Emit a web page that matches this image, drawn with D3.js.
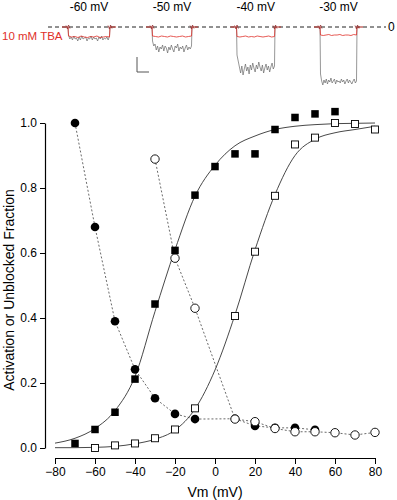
<!DOCTYPE html>
<html>
<head>
<meta charset="utf-8">
<script src="https://cdn.jsdelivr.net/npm/d3@7"></script>
<style>
  body { margin: 0; background: #fff; }
  svg { display: block; font-family: "Liberation Sans", Arial, sans-serif; }
</style>
</head>
<body>
<div id="chart"></div>
<script>
// activation (squares) and unblocked fraction (circles) vs Vm
const actCtrlV = [-70, -60, -50, -40, -30, -20, -10, 0, 10, 20, 30, 40, 50, 60];
const actCtrl  = [0.014, 0.057, 0.11, 0.212, 0.443, 0.608, 0.778, 0.866, 0.905, 0.905, 0.98, 1.017, 1.028, 1.035];
const actTbaV  = [-60, -50, -40, -30, -20, -10, 10, 20, 30, 40, 50, 60, 70, 80];
const actTba   = [0.0, 0.008, 0.014, 0.03, 0.057, 0.122, 0.406, 0.604, 0.776, 0.934, 0.955, 1.0, 0.997, 0.98];
const unblkAV  = [-70, -60, -50, -40, -30, -20, -10, 10, 20, 30, 40, 50];
const unblkA   = [1.0, 0.68, 0.39, 0.242, 0.153, 0.105, 0.089, 0.09, 0.068, 0.062, 0.062, 0.056];
const unblkBV  = [-30, -20, -10, 10, 20, 30, 40, 50, 60, 70, 80];
const unblkB   = [0.889, 0.584, 0.43, 0.089, 0.081, 0.06, 0.05, 0.05, 0.047, 0.04, 0.048];
// fitted curves
const fitV     = [-80, -70, -60, -50, -40, -30, -20, -10, 0, 10, 20, 30, 40, 50, 60, 70, 80];
const fitCtrl  = [0.015, 0.03, 0.06, 0.115, 0.22, 0.42, 0.61, 0.775, 0.87, 0.93, 0.96, 0.98, 0.99, 0.995, 0.998, 0.999, 1.0];
const fitTba   = [0.001, 0.001, 0.002, 0.005, 0.013, 0.027, 0.055, 0.12, 0.24, 0.41, 0.61, 0.78, 0.9, 0.95, 0.97, 0.98, 0.99];
const xTicks   = [-80, -60, -40, -20, 0, 20, 40, 60, 80];
const yTicks   = [0, 0.2, 0.4, 0.6, 0.8, 1.0];

// current traces (top inset)
const sweepLabels = ["-60 mV", "-50 mV", "-40 mV", "-30 mV"];
const stepOn   = [20, 104, 188.5, 272];
const stepOff  = [62, 144, 227, 309];
const redTrace = [
  [-9, -10, -9.5, -10.5, -9, -10, -10.5, -9.5, -10, -9, -10.5, -10, -9.5, -10],
  [-9, -9.5, -10, -9, -9.5, -10, -9, -9.5, -10, -9.5, -9, -10, -9.5, -9],
  [-9.5, -10, -9.5, -9, -10, -9.5, -10, -9, -9.5, -10, -9.5, -9, -10, -9.5],
  [-8, -8.5, -8, -7.5, -8.5, -8, -8, -7.5, -8.5, -8, -8, -8.5, -7.5, -8]
];
const grayNoise = [
  [-8, -12, -10, -13, -9, -12, -11, -14, -10, -13, -9, -12, -11, -10, -14, -11, -12, -9, -13, -10, -12, -11, -14, -10, -12, -9, -13, -11, -12, -10, -13, -9],
  [-14, -19, -17, -23, -19, -25, -20, -22, -18, -24, -19, -21, -26, -20, -23, -18, -22, -25, -19, -21, -17, -24, -20, -22, -19, -25, -21, -18, -23, -20, -22, -19],
  [-28, -34, -40, -46, -39, -48, -42, -37, -44, -40, -47, -38, -43, -36, -41, -45, -38, -42, -35, -40, -44, -38, -46, -41, -37, -43, -39, -45, -40, -36, -42, -39],
  [-47, -54, -58, -53, -56, -52, -57, -53, -55, -51, -56, -54, -52, -57, -53, -55, -54, -56, -52, -55, -53, -57, -54, -52, -56, -53, -55, -57, -54, -52, -56, -54]
];

const W = 397, H = 500;
const svg = d3.select("#chart").append("svg")
  .attr("width", W)
  .attr("height", H);

// ---- top traces ----
let tx = d3.scaleLinear().domain([0, 340]).range([48, 388]);
let ty = d3.scaleLinear().domain([0, -60]).range([27, 87]);

svg.append("line")
  .attr("x1", tx(0)).attr("x2", tx(338))
  .attr("y1", ty(0)).attr("y2", ty(0))
  .attr("stroke", "#222").attr("stroke-width", 1)
  .attr("stroke-dasharray", "4,3");
svg.append("text").text("0")
  .attr("x", 388).attr("y", ty(0) + 4)
  .attr("font-size", 12);
svg.append("text").text("10 mM TBA")
  .attr("x", 2).attr("y", 40)
  .attr("font-size", 11.5)
  .attr("fill", "#e0302a");

let traceLine = d3.line().x(d => tx(d[0])).y(d => ty(d[1]));

function stepTrace(t0, t1, vals){
  let n = vals.length;
  let pts = [[t0 - 6, 0], [t0, 0]];
  vals.forEach(function(v, k){
    pts.push([t0 + 0.5 + k * (t1 - t0 - 1) / (n - 1), v]);
  });
  pts.push([t1, 0], [t1 + 6, 0]);
  return pts;
}

sweepLabels.forEach(function(lab, i){
  let t0 = stepOn[i], t1 = stepOff[i];
  svg.append("text").text(lab)
    .attr("x", tx((t0 + t1) / 2))
    .attr("y", 11)
    .attr("font-size", 12)
    .attr("text-anchor", "middle");

  svg.append("path")
    .attr("d", traceLine(stepTrace(t0, t1, grayNoise[i])))
    .attr("fill", "none")
    .attr("stroke", "#6a6a6a")
    .attr("stroke-width", 0.7);

  svg.append("path")
    .attr("d", traceLine(stepTrace(t0, t1, redTrace[i])))
    .attr("fill", "none")
    .attr("stroke", "#e0302a")
    .attr("stroke-width", 0.8);

  // capacitive blips at step edges
  [t0, t1].forEach(function(t){
    svg.append("path")
      .attr("d", traceLine([[t - 2, 1.5], [t - 0.5, -2], [t + 0.5, 2], [t + 2, -1.5]]))
      .attr("fill", "none")
      .attr("stroke", "#933")
      .attr("stroke-width", 0.8);
  });
});

// scale bar
svg.append("path")
  .attr("d", "M137,57V72H149")
  .attr("fill", "none")
  .attr("stroke", "#555")
  .attr("stroke-width", 1);

// ---- main plot ----
let x = d3.scaleLinear().domain([-80, 80]).range([55, 375]);
let y = d3.scaleLinear().domain([0, 1]).range([448, 123]);

let xAxis = svg.append("g")
  .attr("transform", "translate(0,458)")
  .call(d3.axisBottom(x).tickValues(xTicks).tickSize(6).tickSizeOuter(0).tickPadding(3));
let yAxis = svg.append("g")
  .attr("transform", "translate(45,0)")
  .call(d3.axisLeft(y).tickValues(yTicks).tickFormat(d3.format(".1f")).tickSize(5).tickSizeOuter(0).tickPadding(3));
[xAxis, yAxis].forEach(function(a){
  a.selectAll("text").attr("font-size", 12).attr("font-family", "Liberation Sans, Arial, sans-serif");
  a.select(".domain").attr("stroke-width", 1.2);
});

svg.append("text").text("Vm (mV)")
  .attr("x", 215).attr("y", 497)
  .attr("font-size", 14)
  .attr("text-anchor", "middle");
svg.append("text").text("Activation or Unblocked Fraction")
  .attr("transform", "translate(14,290) rotate(-90)")
  .attr("font-size", 14)
  .attr("text-anchor", "middle");

let zip = (xs, ys) => xs.map((v, i) => [v, ys[i]]);
let curve = d3.line().x(d => x(d[0])).y(d => y(d[1])).curve(d3.curveMonotoneX);
let straight = d3.line().x(d => x(d[0])).y(d => y(d[1]));

svg.append("path").attr("d", curve(zip(fitV, fitCtrl)))
  .attr("fill", "none").attr("stroke", "#333").attr("stroke-width", 0.9);
svg.append("path").attr("d", curve(zip(fitV, fitTba)))
  .attr("fill", "none").attr("stroke", "#333").attr("stroke-width", 0.9);
svg.append("path").attr("d", straight(zip(unblkAV, unblkA)))
  .attr("fill", "none").attr("stroke", "#444").attr("stroke-width", 0.8).attr("stroke-dasharray", "2,2");
svg.append("path").attr("d", straight(zip(unblkBV, unblkB)))
  .attr("fill", "none").attr("stroke", "#444").attr("stroke-width", 0.8).attr("stroke-dasharray", "2,2");

const sq = 7.5;
svg.selectAll(".sqFill").data(zip(actCtrlV, actCtrl)).enter()
  .append("rect").attr("class", "sqFill")
  .attr("x", d => x(d[0]) - sq / 2).attr("y", d => y(d[1]) - sq / 2)
  .attr("width", sq).attr("height", sq)
  .attr("fill", "#000");
svg.selectAll(".sqOpen").data(zip(actTbaV, actTba)).enter()
  .append("rect").attr("class", "sqOpen")
  .attr("x", d => x(d[0]) - 3.5).attr("y", d => y(d[1]) - 3.5)
  .attr("width", 7).attr("height", 7)
  .attr("fill", "#fff").attr("stroke", "#000").attr("stroke-width", 0.9);
svg.selectAll(".ciFill").data(zip(unblkAV, unblkA)).enter()
  .append("circle").attr("class", "ciFill")
  .attr("cx", d => x(d[0])).attr("cy", d => y(d[1]))
  .attr("r", 4.3).attr("fill", "#000");
svg.selectAll(".ciOpen").data(zip(unblkBV, unblkB)).enter()
  .append("circle").attr("class", "ciOpen")
  .attr("cx", d => x(d[0])).attr("cy", d => y(d[1]))
  .attr("r", 4.2).attr("fill", "#fff").attr("stroke", "#000").attr("stroke-width", 0.9);
</script>
</body>
</html>
